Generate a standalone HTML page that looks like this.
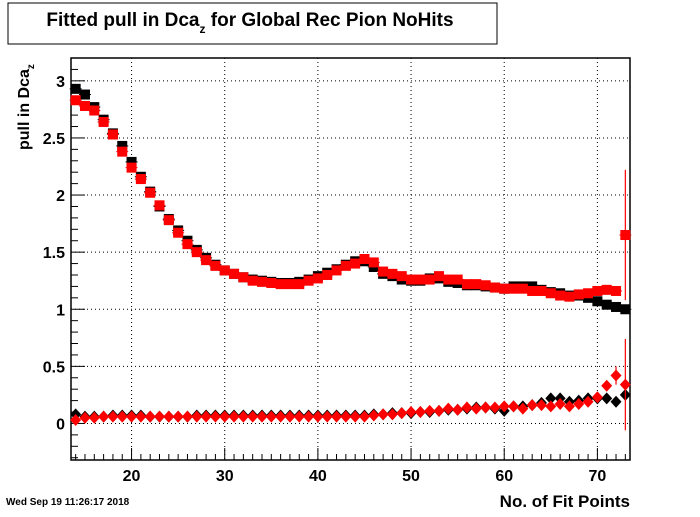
<!DOCTYPE html>
<html><head><meta charset="utf-8"><style>
body{margin:0;background:#fff;width:700px;height:512px;overflow:hidden;font-family:"Liberation Sans",sans-serif}
svg text{font-family:"Liberation Sans",sans-serif}
</style></head><body>
<svg id="c" width="700" height="512" xmlns="http://www.w3.org/2000/svg">
<rect x="8" y="3" width="489" height="41" fill="#fff" stroke="#000"/>
<text x="250" y="26" text-anchor="middle" font-size="19" font-weight="bold">Fitted pull in Dca<tspan font-size="12" dy="7">z</tspan><tspan dy="-7"> for Global Rec Pion NoHits</tspan></text>
<text transform="translate(29,150) rotate(-90)" font-size="16" font-weight="bold">pull in Dca<tspan font-size="10" dy="5">z</tspan></text>
<text x="630" y="507" text-anchor="end" font-size="17" font-weight="bold">No. of Fit Points</text>
<text x="6" y="505" font-size="10" font-weight="bold">Wed Sep 19 11:26:17 2018</text>
<g id="grid"></g><g id="axes"></g><g id="marks"></g>
</svg>
<script>
const xTicks=[20,30,40,50,60,70];
const yTicks=[0,0.5,1,1.5,2,2.5,3];
const xs=[];for(let i=14;i<=73;i++)xs.push(i);
const blackSquares=[2.93,2.88,2.77,2.66,2.54,2.43,2.29,2.16,2.03,1.90,1.79,1.69,1.60,1.52,1.45,1.39,1.34,1.31,1.28,1.26,1.25,1.24,1.23,1.23,1.24,1.26,1.29,1.32,1.35,1.39,1.42,1.42,1.37,1.31,1.29,1.26,1.25,1.25,1.27,1.27,1.24,1.23,1.21,1.21,1.20,1.19,1.18,1.20,1.20,1.20,1.17,1.15,1.14,1.12,1.12,1.10,1.07,1.04,1.02,1.00];
const redSquares=[2.83,2.78,2.74,2.64,2.53,2.38,2.24,2.14,2.02,1.91,1.78,1.67,1.57,1.50,1.43,1.38,1.34,1.31,1.28,1.25,1.24,1.23,1.22,1.22,1.22,1.25,1.27,1.30,1.34,1.38,1.40,1.44,1.41,1.33,1.31,1.29,1.26,1.26,1.26,1.29,1.26,1.26,1.22,1.22,1.21,1.19,1.18,1.18,1.18,1.16,1.16,1.14,1.12,1.11,1.13,1.14,1.16,1.17,1.16,1.65];
const blackDiamonds=[0.08,0.06,0.06,0.06,0.07,0.07,0.07,0.07,0.06,0.06,0.06,0.06,0.06,0.07,0.07,0.07,0.07,0.07,0.07,0.07,0.07,0.07,0.07,0.07,0.07,0.07,0.07,0.07,0.07,0.07,0.07,0.07,0.08,0.08,0.09,0.09,0.09,0.10,0.10,0.11,0.12,0.12,0.13,0.14,0.14,0.13,0.11,0.15,0.15,0.16,0.18,0.22,0.22,0.19,0.20,0.22,0.22,0.22,0.19,0.25];
const redDiamonds=[0.03,0.05,0.05,0.06,0.06,0.06,0.06,0.06,0.06,0.06,0.06,0.06,0.06,0.06,0.06,0.06,0.06,0.06,0.06,0.06,0.06,0.06,0.06,0.06,0.06,0.06,0.06,0.06,0.06,0.06,0.06,0.06,0.07,0.08,0.08,0.09,0.10,0.10,0.11,0.11,0.13,0.12,0.14,0.13,0.14,0.14,0.15,0.15,0.13,0.16,0.16,0.15,0.17,0.15,0.17,0.19,0.23,0.33,0.42,0.34];
const L=71,R=630,T=58,B=460,X0=13.5,X1=73.5,Y0=-0.32,Y1=3.2;
const sx=v=>L+(v-X0)/(X1-X0)*(R-L), sy=v=>B-(v-Y0)/(Y1-Y0)*(B-T);
const NS="http://www.w3.org/2000/svg";
function mk(p,t,a){const e=document.createElementNS(NS,t);for(const k in a)e.setAttribute(k,a[k]);p.appendChild(e);return e;}
const grid=document.getElementById('grid'),axes=document.getElementById('axes'),marks=document.getElementById('marks');
xTicks.forEach(v=>{const l=mk(grid,'line',{x1:sx(v),x2:sx(v),y1:T,y2:B,stroke:'#000','stroke-dasharray':'1,3'});


const t=mk(axes,'text',{x:sx(v),y:B+21,'text-anchor':'middle','font-size':16,'font-weight':'bold'});t.textContent=v;

});
yTicks.forEach(v=>{const l=mk(grid,'line',{x1:L,x2:R,y1:sy(v),y2:sy(v),stroke:'#000','stroke-dasharray':'1,3'});


const t=mk(axes,'text',{x:L-6,y:sy(v)+6,'text-anchor':'end','font-size':16,'font-weight':'bold'});t.textContent=v;

});
const fr=mk(axes,'rect',{x:L,y:T,width:R-L,height:B-T,fill:'none',stroke:'#000','stroke-width':1.5});


for(let v=14;v<=73;v++){const big=v%10==0;mk(axes,'line',{x1:sx(v),x2:sx(v),y1:B,y2:B-(big?12:6),stroke:'#000'});}
for(let v=-0.3;v<=3.2;v+=0.1){const r=Math.round(v*10);const big=r%5==0;mk(axes,'line',{x1:L,x2:L+(big?14:7),y1:sy(v),y2:sy(v),stroke:'#000'});}
function squares(arr,col,name){arr.forEach((v,i)=>{const x=sx(xs[i]),y=sy(v);
if(xs[i]==73&&col=='red'){const e=mk(marks,'line',{x1:x,x2:x,y1:sy(v+0.57),y2:sy(v-0.57),stroke:col,'stroke-width':1.2});}
mk(marks,'line',{x1:x-6,x2:x+6,y1:y,y2:y,stroke:col});
const r=mk(marks,'rect',{x:x-5,y:y-5,width:10,height:10,fill:col});

});}
function diamonds(arr,col,name){arr.forEach((v,i)=>{const x=sx(xs[i]),y=sy(v);
if(col=='red'&&xs[i]>=71){const er=[0.04,0.08,0.4][xs[i]-71];const e=mk(marks,'line',{x1:x,x2:x,y1:sy(v+er),y2:sy(v-er),stroke:col,'stroke-width':1.2});}
const p=mk(marks,'polygon',{points:`${x},${y-6} ${x+5.5},${y} ${x},${y+6} ${x-5.5},${y}`,fill:col});

});}
squares(blackSquares,'#000','black-square-point');
squares(redSquares,'red','red-square-point');
diamonds(blackDiamonds,'#000','black-diamond-point');
diamonds(redDiamonds,'red','red-diamond-point');
</script>
</body></html>
